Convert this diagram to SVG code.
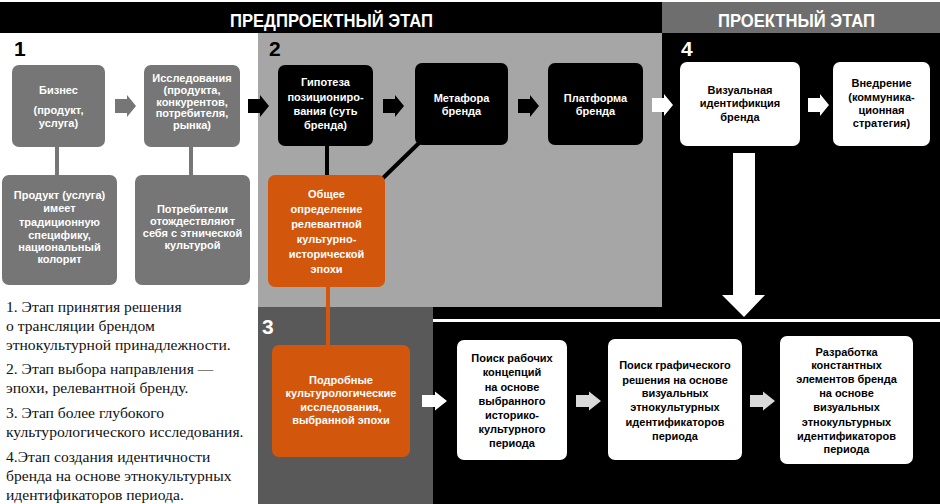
<svg xmlns="http://www.w3.org/2000/svg" width="940" height="504" viewBox="0 0 940 504">
<defs>
<style>
.t{font-family:"Liberation Sans",Arial,sans-serif;font-weight:bold;font-size:11px;text-anchor:middle}
.w{fill:#fff}
.k{fill:#000}
.hd{font-family:"Liberation Sans",Arial,sans-serif;font-weight:bold;font-size:18px;fill:#fff}
.num{font-family:"Liberation Sans",Arial,sans-serif;font-weight:bold;font-size:21px}
.note{font-family:"Liberation Serif","Times New Roman",serif;font-size:15.6px;fill:#111}
.gray{fill:#767676}
.blk{fill:#000}
.wht{fill:#fff}
.org{fill:#d2560c}
</style>
<path id="ar" d="M0,-7 H12 V-11 L21,0 L12,11 V7 H0 Z"/>
<path id="ar2" d="M0,-6 H13 V-9.5 L25,0 L13,9.5 V6 H0 Z"/>
</defs>
<rect x="0" y="0" width="940" height="504" fill="#fff"/>
<rect x="0" y="2" width="662" height="31" fill="#000"/>
<rect x="662" y="2" width="278" height="31" fill="#6e6e6e"/>
<rect x="258" y="33" width="404" height="274" fill="#a6a6a6"/>
<rect x="662" y="33" width="278" height="274" fill="#000"/>
<rect x="433" y="307" width="507" height="197" fill="#000"/>
<rect x="258" y="307" width="175" height="197" fill="#595959"/>
<rect x="433" y="319" width="507" height="3" fill="#fff"/>
<text class="hd" x="230" y="27" textLength="203" lengthAdjust="spacingAndGlyphs">ПРЕДПРОЕКТНЫЙ ЭТАП</text>
<text class="hd" x="718" y="27" textLength="157" lengthAdjust="spacingAndGlyphs">ПРОЕКТНЫЙ ЭТАП</text>
<text class="num" x="14" y="56" fill="#000">1</text>
<text class="num" x="269" y="56" fill="#000">2</text>
<text class="num" x="681" y="56" fill="#fff">4</text>
<text class="num" x="262" y="334" fill="#fff">3</text>
<g id="connectors">
<line x1="57" y1="146" x2="57" y2="176" stroke="#767676" stroke-width="4"/>
<line x1="191" y1="146" x2="191" y2="176" stroke="#767676" stroke-width="4"/>
<line x1="327" y1="145" x2="327" y2="176" stroke="#000" stroke-width="4"/>
<line x1="420" y1="142" x2="382" y2="179" stroke="#000" stroke-width="4"/>
<line x1="328" y1="286" x2="328" y2="346" stroke="#d2560c" stroke-width="4"/>
<use href="#ar" x="115" y="106" fill="#767676"/>
<use href="#ar" x="248" y="106" fill="#000"/>
<use href="#ar" x="383" y="106" fill="#000"/>
<use href="#ar" x="518" y="106" fill="#000"/>
<use href="#ar" x="652" y="105" fill="#fff"/>
<use href="#ar" x="808" y="105" fill="#fff"/>
<use href="#ar2" x="422" y="401" fill="#fff"/>
<use href="#ar2" x="576" y="401" fill="#d9d9d9"/>
<use href="#ar2" x="750" y="401" fill="#d9d9d9"/>
<path d="M733,153 H755 V295 H765 L744,317 L722,295 H733 Z" fill="#fff"/>
</g>
<g id="n1"><rect class="gray" x="12" y="65" width="93" height="82" rx="7"/>
<text class="t w"><tspan x="58.5" y="94">Бизнес</tspan><tspan x="58.5" y="114">(продукт,</tspan><tspan x="58.5" y="127">услуга)</tspan></text></g>
<g id="n2"><rect class="gray" x="144" y="65" width="96" height="82" rx="7"/>
<text class="t w"><tspan x="192" y="82">Исследования</tspan><tspan x="192" y="94">(продукта,</tspan><tspan x="192" y="106">конкурентов,</tspan><tspan x="192" y="117">потребителя,</tspan><tspan x="192" y="129">рынка)</tspan></text></g>
<g id="n3"><rect class="blk" x="278" y="65" width="95" height="81" rx="7"/>
<text class="t w"><tspan x="325.5" y="86">Гипотеза</tspan><tspan x="325.5" y="101">позициониро-</tspan><tspan x="325.5" y="115">вания (суть</tspan><tspan x="325.5" y="129">бренда)</tspan></text></g>
<g id="n4"><rect class="blk" x="415" y="63" width="93" height="82" rx="7"/>
<text class="t w"><tspan x="461.5" y="102">Метафора</tspan><tspan x="461.5" y="115">бренда</tspan></text></g>
<g id="n5"><rect class="blk" x="548" y="63" width="95" height="82" rx="7"/>
<text class="t w"><tspan x="595.5" y="102">Платформа</tspan><tspan x="595.5" y="115">бренда</tspan></text></g>
<g id="n6"><rect class="wht" x="680" y="62" width="120" height="84" rx="7"/>
<text class="t k"><tspan x="740" y="94">Визуальная</tspan><tspan x="740" y="107">идентификция</tspan><tspan x="740" y="121">бренда</tspan></text></g>
<g id="n7"><rect class="wht" x="833" y="62" width="97" height="84" rx="7"/>
<text class="t k"><tspan x="881.5" y="87">Внедрение</tspan><tspan x="881.5" y="101">(коммуника-</tspan><tspan x="881.5" y="114">ционная</tspan><tspan x="881.5" y="127">стратегия)</tspan></text></g>
<g id="n8"><rect class="gray" x="2" y="175" width="115" height="110" rx="7"/>
<text class="t w"><tspan x="59.5" y="199">Продукт (услуга)</tspan><tspan x="59.5" y="212">имеет</tspan><tspan x="59.5" y="226">традиционную</tspan><tspan x="59.5" y="239">специфику,</tspan><tspan x="59.5" y="251">национальный</tspan><tspan x="59.5" y="263">колорит</tspan></text></g>
<g id="n9"><rect class="gray" x="135" y="175" width="115" height="110" rx="7"/>
<text class="t w"><tspan x="192.5" y="213">Потребители</tspan><tspan x="192.5" y="225">отождествляют</tspan><tspan x="192.5" y="237">себя с этнической</tspan><tspan x="192.5" y="249">культурой</tspan></text></g>
<g id="n10"><rect class="org" x="268" y="175" width="117" height="112" rx="7"/>
<text class="t w"><tspan x="326.5" y="198">Общее</tspan><tspan x="326.5" y="213">определение</tspan><tspan x="326.5" y="228">релевантной</tspan><tspan x="326.5" y="243">культурно-</tspan><tspan x="326.5" y="258">исторической</tspan><tspan x="326.5" y="273">эпохи</tspan></text></g>
<g id="n11"><rect class="org" x="272" y="345" width="138" height="112" rx="7"/>
<text class="t w"><tspan x="341" y="384">Подробные</tspan><tspan x="341" y="397">культурологические</tspan><tspan x="341" y="411">исследования,</tspan><tspan x="341" y="424">выбранной эпохи</tspan></text></g>
<g id="n12"><rect class="wht" x="457" y="340" width="110" height="120" rx="7"/>
<text class="t k"><tspan x="512" y="362">Поиск рабочих</tspan><tspan x="512" y="376">концепций</tspan><tspan x="512" y="391">на основе</tspan><tspan x="512" y="405">выбранного</tspan><tspan x="512" y="419">историко-</tspan><tspan x="512" y="433">культурного</tspan><tspan x="512" y="447">периода</tspan></text></g>
<g id="n13"><rect class="wht" x="608" y="339" width="134" height="121" rx="7"/>
<text class="t k"><tspan x="675" y="369">Поиск графического</tspan><tspan x="675" y="384">решения на основе</tspan><tspan x="675" y="397">визуальных</tspan><tspan x="675" y="411">этнокультурных</tspan><tspan x="675" y="426">идентификаторов</tspan><tspan x="675" y="440">периода</tspan></text></g>
<g id="n14"><rect class="wht" x="780" y="336" width="133" height="128" rx="7"/>
<text class="t k"><tspan x="846.5" y="356">Разработка</tspan><tspan x="846.5" y="369">константных</tspan><tspan x="846.5" y="383">элементов бренда</tspan><tspan x="846.5" y="397">на основе</tspan><tspan x="846.5" y="411">визуальных</tspan><tspan x="846.5" y="426">этнокультурных</tspan><tspan x="846.5" y="440">идентификаторов</tspan><tspan x="846.5" y="453">периода</tspan></text></g>
<g id="notes">
<text class="note"><tspan x="6" y="312">1. Этап принятия решения</tspan><tspan x="6" y="331">о трансляции брендом</tspan><tspan x="6" y="350">этнокультурной принадлежности.</tspan><tspan x="6" y="374">2. Этап выбора направления —</tspan><tspan x="6" y="393">эпохи, релевантной бренду.</tspan><tspan x="6" y="418">3. Этап более глубокого</tspan><tspan x="6" y="437">культурологического исследования.</tspan><tspan x="6" y="462">4.Этап создания идентичности</tspan><tspan x="6" y="481">бренда на основе этнокультурных</tspan><tspan x="6" y="500">идентификаторов периода.</tspan></text>
</g>
</svg>
